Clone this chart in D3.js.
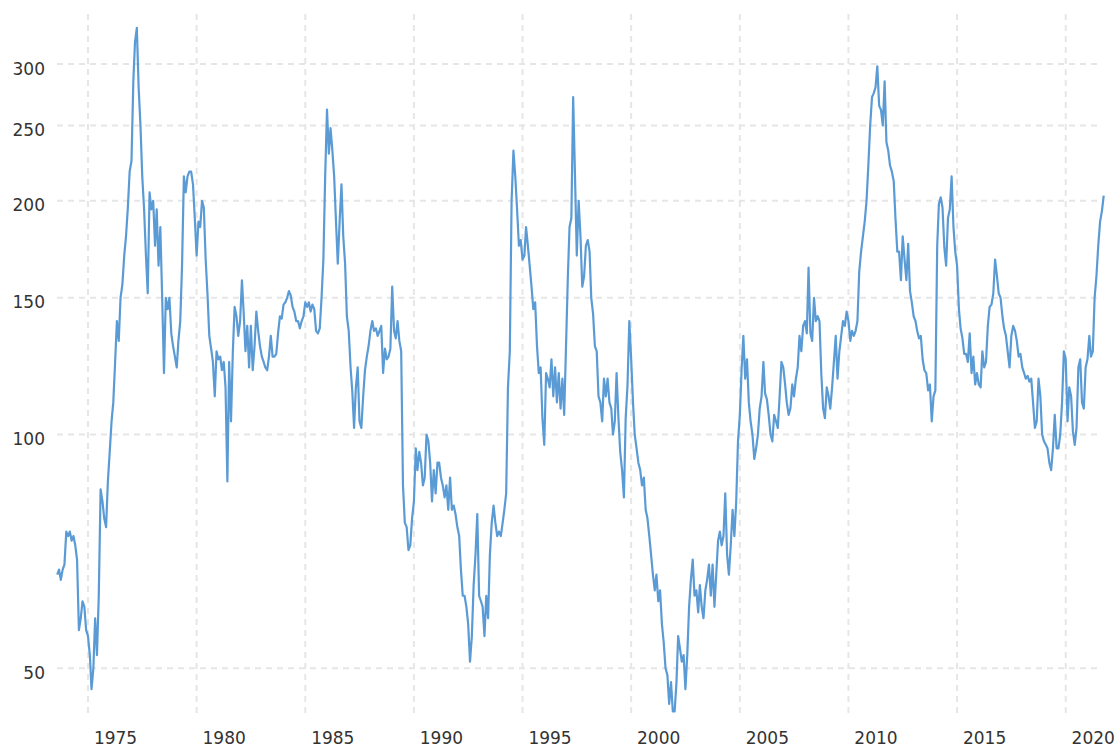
<!DOCTYPE html>
<html>
<head>
<meta charset="utf-8">
<script src="https://cdn.jsdelivr.net/npm/d3@7"></script>
<style>
  html, body { margin: 0; padding: 0; background: #fff; }
  #chart { width: 1120px; height: 749px; }
  .grid line { stroke: #e6e6e6; stroke-width: 2; stroke-dasharray: 6, 5; }
  .tick-label { font-family: "DejaVu Sans", Verdana, sans-serif; font-size: 17px; fill: #333; }
</style>
</head>
<body>
<div id="chart"></div>
<script>
// monthly values, first month = Aug 1973
const startYear = 1973;
const startMonth = 7; // 0-based, August

const values1970s = [
  66, 67, 65, 67, 68,
  75, 74, 75, 73, 74, 72, 69, 56, 58, 61, 60, 56,
  55, 52, 47, 50, 58, 52, 62, 85, 82, 78, 76, 87,
  95, 104, 110, 124, 140, 132, 150, 156, 170, 180, 196, 218,
  225, 285, 320, 334, 280, 250, 215, 195, 170, 152, 205, 195,
  200, 175, 195, 165, 185, 150, 120, 150, 145, 150, 135, 130,
  126, 122, 132, 140, 165, 215, 205, 215, 218, 218, 210, 190
];

const values1980s = [
  170, 188, 185, 200, 196, 168, 152, 134, 129, 124, 112, 128,
  125, 126, 121, 124, 115, 87, 124, 104, 128, 146, 142, 134,
  140, 158, 144, 128, 138, 122, 138, 121, 130, 144, 136, 130,
  126, 124, 122, 121, 126, 134, 126, 126, 127, 135, 142, 141,
  147, 148, 150, 153, 151, 146, 144, 140, 140, 137, 140, 142,
  148, 146, 148, 144, 147, 145, 136, 135, 137, 150, 168, 215,
  262, 230, 248, 232, 215, 188, 166, 188, 210, 180, 166, 142,
  136, 122, 114, 102, 115, 122, 104, 102, 112, 121, 126, 130,
  136, 140, 136, 137, 134, 136, 138, 120, 129, 125, 126, 129,
  155, 136, 133, 140, 132, 128, 86, 77, 76, 71, 72, 78
];

const values1990s = [
  82, 96, 90, 95, 92, 86, 88, 100, 98, 92, 82, 90,
  84, 92, 92, 88, 86, 83, 86, 80, 88, 80, 81, 79,
  76, 74, 67, 62, 62, 60, 57, 51, 55, 64, 70, 79,
  62, 61, 60, 55, 62, 58, 70, 77, 81, 77, 74, 75,
  74, 77, 80, 84, 115, 128, 200, 232, 215, 195, 175, 178,
  168, 170, 185, 175, 165, 155, 145, 148, 130, 120, 122, 105,
  97, 120, 118, 115, 125, 112, 122, 110, 120, 108, 118, 106,
  130, 160, 185, 190, 272, 215, 170, 200, 180, 155, 160, 175,
  178, 172, 150, 143, 130, 128, 112, 110, 104, 118, 112, 118,
  110, 108, 100, 104, 120, 105, 95, 90, 83, 105, 116, 140
];

const values2000s = [
  125, 110, 100, 96, 92, 90, 86, 88, 80, 78, 74, 70,
  66, 63, 66, 61, 63, 57, 54, 50, 49, 45, 48, 44,
  44, 48, 55, 53, 51, 52, 47, 52, 60, 65, 69, 62,
  63, 59, 64, 60, 58, 63, 65, 68, 62, 68, 60, 66,
  73, 75, 72, 74, 84, 70, 66, 72, 80, 74, 82, 98,
  106, 122, 134, 118, 125, 110, 104, 100, 93, 96, 100, 108,
  112, 124, 113, 111, 106, 100, 98, 106, 104, 102, 112, 124,
  122, 116, 110, 106, 108, 116, 112, 118, 122, 134, 128, 138,
  140, 135, 164, 135, 132, 150, 140, 142, 140, 120, 108, 105,
  115, 112, 108, 115, 124, 134, 118, 128, 134, 140, 138, 144
];

const values2010s = [
  140, 132, 136, 134, 136, 140, 162, 172, 180, 188, 200, 222,
  250, 272, 275, 280, 298, 265, 262, 250, 285, 238, 232, 222,
  218, 212, 190, 172, 172, 158, 180, 168, 158, 176, 153, 148,
  142, 140, 136, 133, 134, 125, 121, 120, 114, 116, 104, 112,
  114, 175, 198, 202, 196, 174, 165, 190, 195, 215, 185, 172,
  165, 145, 137, 133, 127, 127, 124, 135, 120, 126, 116, 120,
  116, 115, 128, 122, 124, 138, 146, 147, 152, 168, 160, 152,
  150, 142, 137, 134, 128, 122, 134, 138, 136, 132, 126, 127,
  122, 120, 118, 119, 117, 118, 110, 102, 104, 118, 112, 100,
  98, 97, 96, 92, 90, 96, 106, 96, 96, 100, 110, 128
];

const values2020s = [
  125, 104, 115, 112, 101, 97, 102, 122, 125, 110, 108, 122,
  125, 134, 126, 128, 150, 160, 175, 188, 194, 203
];

const yTicks = [50, 100, 150, 200, 250, 300];
const xTickYears = [1975, 1980, 1985, 1990, 1995, 2000, 2005, 2010, 2015, 2020];

const data = [...values1970s, ...values1980s, ...values1990s,
  ...values2000s, ...values2010s, ...values2020s]
  .map((v, i) => ({ date: new Date(startYear, startMonth + i, 1), value: v }));

const width = 1120;
const height = 749;
const plot = { left: 57, right: 1100, top: 14, bottom: 716 };

const svg = d3.select("#chart").append("svg")
  .attr("width", width)
  .attr("height", height);

const xScale = d3.scaleTime()
  .domain([new Date(1975, 0, 1), new Date(2020, 0, 1)])
  .range([88, 1065.7]);

const yScale = d3.scaleLog()
  .domain([50, 300])
  .range([668.3, 64]);

// grid
const grid = svg.append("g").attr("class", "grid");

grid.selectAll(".hgrid")
  .data(yTicks)
  .enter()
  .append("line")
  .attr("x1", plot.left)
  .attr("x2", plot.right)
  .attr("y1", (d) => yScale(d))
  .attr("y2", (d) => yScale(d));

grid.selectAll(".vgrid")
  .data(xTickYears)
  .enter()
  .append("line")
  .attr("x1", (d) => xScale(new Date(d, 0, 1)))
  .attr("x2", (d) => xScale(new Date(d, 0, 1)))
  .attr("y1", plot.top)
  .attr("y2", plot.bottom);

// axes labels
const yAxis = d3.axisLeft(yScale)
  .tickValues(yTicks)
  .tickFormat(d3.format("d"))
  .tickSize(0)
  .tickPadding(0);

svg.append("g")
  .attr("transform", "translate(45,0)")
  .call(yAxis)
  .call((g) => g.select(".domain").remove())
  .call((g) => g.selectAll("text")
    .attr("class", "tick-label")
    .attr("dy", "0.6em")
    .attr("font-size", null)
    .attr("font-family", null)
    .attr("fill", null));

const xAxis = d3.axisBottom(xScale)
  .tickValues(xTickYears.map((y) => new Date(y, 0, 1)))
  .tickFormat(d3.timeFormat("%Y"))
  .tickSize(0)
  .tickPadding(0);

// labels sit a little to the right of their grid lines
svg.append("g")
  .attr("transform", "translate(27,744)")
  .call(xAxis)
  .call((g) => g.select(".domain").remove())
  .call((g) => g.selectAll("text")
    .attr("class", "tick-label")
    .attr("y", 0)
    .attr("dy", 0)
    .attr("font-size", null)
    .attr("font-family", null)
    .attr("fill", null));

// line
const line = d3.line()
  .x((d) => xScale(d.date))
  .y((d) => yScale(d.value));

svg.append("path")
  .datum(data)
  .attr("fill", "none")
  .attr("stroke", "#5b9bd5")
  .attr("stroke-width", 2.2)
  .attr("stroke-linejoin", "round")
  .attr("d", line);
</script>
</body>
</html>
